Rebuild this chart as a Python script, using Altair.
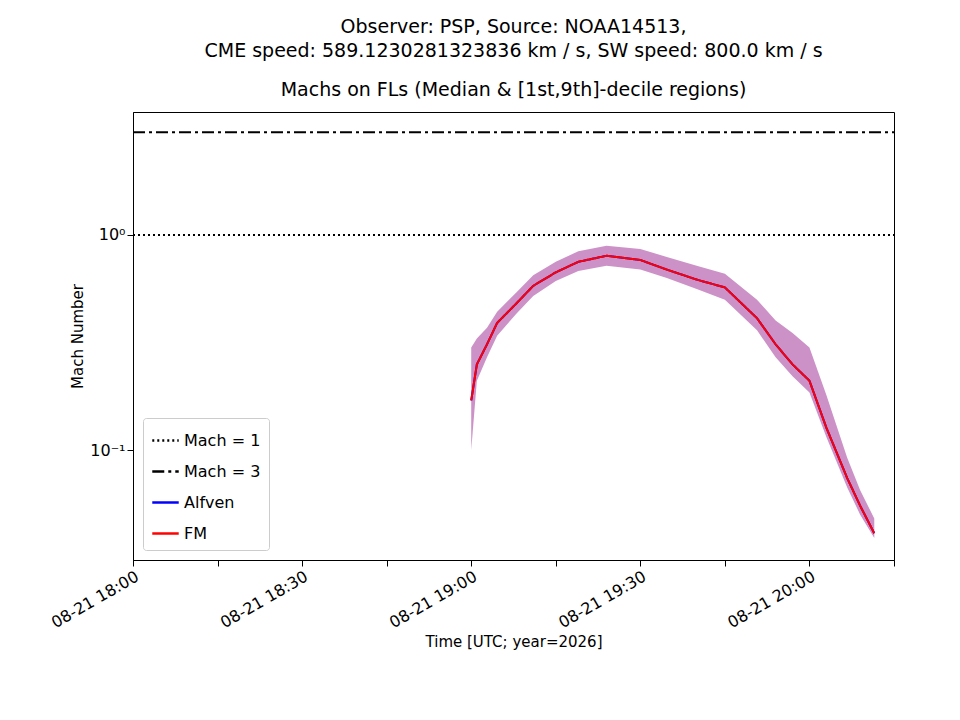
import altair as alt
import pandas as pd

# minutes after 2026-08-21 18:00 UTC
t = [60, 61, 62.8, 64.6, 68, 71, 75, 79, 84, 90, 94.7, 100, 105, 110.7, 114, 117, 120, 123, 126.7, 129, 131.5]
fm = [0.17, 0.25, 0.31, 0.39, 0.48, 0.58, 0.67, 0.75, 0.80, 0.765, 0.69, 0.62, 0.57, 0.41, 0.31, 0.25, 0.21, 0.127, 0.074, 0.055, 0.041]
lo = [0.10, 0.21, 0.27, 0.34, 0.43, 0.52, 0.61, 0.68, 0.72, 0.69, 0.63, 0.56, 0.50, 0.36, 0.27, 0.22, 0.185, 0.115, 0.067, 0.05, 0.039]
hi = [0.30, 0.33, 0.37, 0.44, 0.54, 0.65, 0.75, 0.84, 0.89, 0.86, 0.79, 0.72, 0.66, 0.50, 0.40, 0.35, 0.30, 0.18, 0.092, 0.065, 0.048]

band = pd.DataFrame({"t": t, "lo": lo, "hi": hi})
rows = []
for x in (0, 135):
    rows.append({"t": x, "v": 1.0, "s": "Mach = 1"})
    rows.append({"t": x, "v": 3.0, "s": "Mach = 3"})
for x, v in zip(t, fm):
    rows.append({"t": x, "v": v, "s": "Alfven"})
    rows.append({"t": x, "v": v, "s": "FM"})
lines = pd.DataFrame(rows)

xlab = "'08-21 ' + format(18+floor(datum.value/60),'02d') + ':' + format(datum.value%60,'02d')"
X = alt.X("t:Q", title="Time [UTC; year=2026]",
          scale=alt.Scale(domain=[0, 135], nice=False, zero=False),
          axis=alt.Axis(values=list(range(0, 136, 15)), labelExpr=xlab, labelAngle=-30,
                        grid=False, labelFontSize=16, titleFontSize=15, titleFontWeight="normal",
                        labelColor="black", titleColor="black", domainColor="black",
                        tickColor="black", tickSize=6))
ysc = alt.Scale(type="log", domain=[0.0308, 3.73], nice=False)
yax = alt.Axis(values=[0.1, 1], labelExpr="datum.value >= 1 ? '10⁰' : '10⁻¹'", grid=False,
               labelFontSize=16, titleFontSize=15, titleFontWeight="normal", labelColor="black",
               titleColor="black", domainColor="black", tickColor="black", tickSize=6)

area = alt.Chart(band).mark_area(color="#c98bc3", opacity=0.95).encode(
    x=X, y=alt.Y("lo:Q", scale=ysc, axis=yax, title="Mach Number"), y2="hi:Q")

dom = ["Mach = 1", "Mach = 3", "Alfven", "FM"]
ln = alt.Chart(lines).mark_line(strokeWidth=2).encode(
    x=X, y=alt.Y("v:Q", scale=ysc),
    detail="s:N", order="t:Q",
    color=alt.Color("s:N", scale=alt.Scale(domain=dom, range=["black", "black", "blue", "red"]),
                    legend=alt.Legend(title=None, orient="bottom-left", labelFontSize=16,
                                      symbolStrokeWidth=2.5, symbolSize=700, symbolType="stroke",
                                      fillColor="white", strokeColor="#ccc", padding=8,
                                      rowPadding=8, cornerRadius=3, labelColor="black",
                                      offset=10)),
    strokeDash=alt.StrokeDash("s:N", scale=alt.Scale(domain=dom,
                              range=[[2, 3], [12, 4, 3, 4], [1, 0], [1, 0]]), legend=None))

chart = alt.layer(area, ln).properties(
    width=761, height=448,
    padding={"left": 40, "top": 10, "right": 5, "bottom": 5},
    title=alt.Title(["Observer: PSP, Source: NOAA14513,",
                     "CME speed: 589.1230281323836 km / s, SW speed: 800.0 km / s"],
                    subtitle="Machs on FLs (Median & [1st,9th]-decile regions)",
                    fontSize=19, subtitleFontSize=19, fontWeight="normal", color="black",
                    subtitleColor="black", subtitlePadding=20, anchor="middle", offset=12,
                    lineHeight=24)
).configure(font="DejaVu Sans").configure_view(stroke="black", strokeWidth=1)

chart.save("out.html", embed_options={"renderer": "svg", "actions": False})
